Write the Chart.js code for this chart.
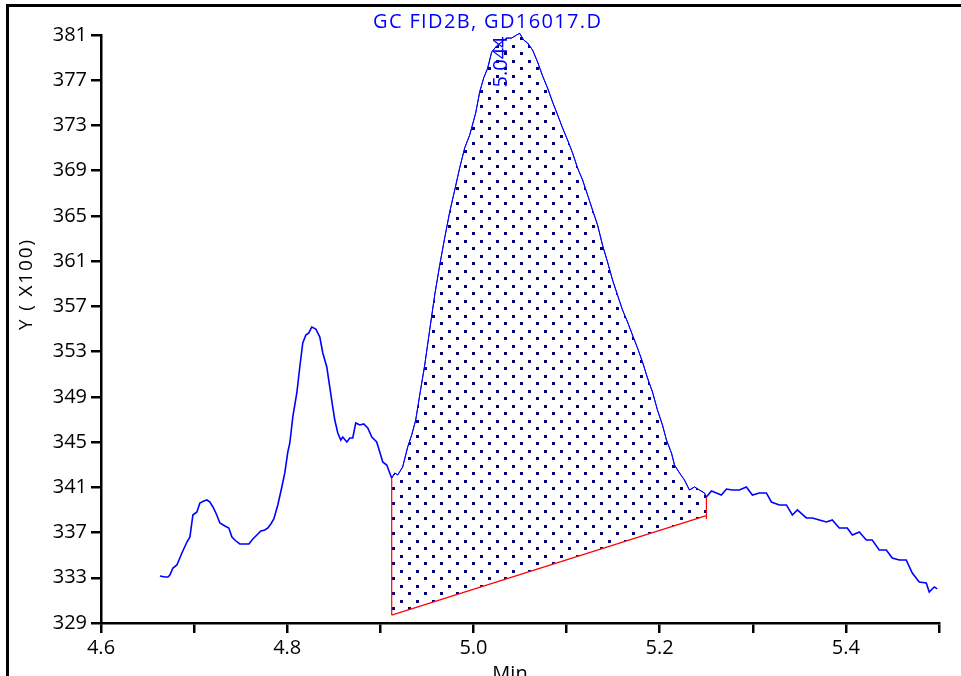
<!DOCTYPE html>
<html><head><meta charset="utf-8">
<script src="https://cdn.jsdelivr.net/npm/chart.js@4/dist/chart.umd.min.js"></script>
<style>html,body{margin:0;padding:0;background:#fff;overflow:hidden}#wrap{width:961px;height:676px;position:relative}</style>
</head><body><div id="wrap"><canvas id="c" width="961" height="676"></canvas></div>
<script>
// ---- data ----
const times = [4.6633,4.6687,4.6719,4.6740,4.6773,4.6815,4.6869,4.6923,4.6955,4.6987,4.7030,4.7062,4.7105,4.7137,4.7170,4.7202,4.7234,4.7277,4.7331,4.7373,4.7406,4.7449,4.7491,4.7545,4.7588,4.7631,4.7674,4.7717,4.7760,4.7792,4.7824,4.7856,4.7899,4.7942,4.7974,4.8006,4.8028,4.8060,4.8103,4.8135,4.8167,4.8200,4.8232,4.8264,4.8307,4.8350,4.8382,4.8425,4.8457,4.8489,4.8511,4.8543,4.8575,4.8597,4.8640,4.8672,4.8704,4.8736,4.8779,4.8822,4.8865,4.8908,4.8961,4.8994,4.9026,4.9069,4.9101,4.9122,4.9155,4.9187,4.9240,4.9294,4.9337,4.9380,4.9423,4.9477,4.9530,4.9584,4.9638,4.9691,4.9745,4.9799,4.9852,4.9906,4.9960,5.0024,5.0067,5.0110,5.0153,5.0196,5.0249,5.0303,5.0356,5.0410,5.0464,5.0496,5.0539,5.0582,5.0635,5.0689,5.0743,5.0796,5.0850,5.0904,5.0957,5.1011,5.1065,5.1118,5.1172,5.1226,5.1279,5.1333,5.1386,5.1440,5.1494,5.1547,5.1601,5.1655,5.1708,5.1762,5.1816,5.1869,5.1923,5.1976,5.2030,5.2073,5.2127,5.2159,5.2213,5.2266,5.2320,5.2374,5.2427,5.2481,5.2502,5.2556,5.2610,5.2663,5.2717,5.2781,5.2856,5.2931,5.2996,5.3071,5.3146,5.3200,5.3285,5.3361,5.3425,5.3479,5.3575,5.3640,5.3715,5.3790,5.3854,5.3929,5.4015,5.4069,5.4144,5.4219,5.4283,5.4358,5.4434,5.4498,5.4573,5.4648,5.4713,5.4788,5.4863,5.4895,5.4949,5.4981];
const signal = [333.16,333.07,333.07,333.25,333.86,334.13,335.19,336.16,336.61,338.55,338.82,339.61,339.79,339.88,339.70,339.26,338.73,337.84,337.58,337.40,336.61,336.25,335.99,335.99,335.99,336.43,336.78,337.14,337.23,337.40,337.76,338.20,339.44,341.03,342.27,344.12,344.92,347.22,349.34,351.64,353.76,354.47,354.65,355.18,355.00,354.29,352.88,351.64,349.87,348.10,346.95,345.80,345.18,345.45,345.01,345.36,345.36,346.69,346.51,346.60,346.25,345.45,345.01,344.12,343.24,342.97,342.27,341.82,342.27,342.09,342.80,344.57,345.63,346.95,349.16,351.82,354.91,358.01,360.66,363.05,365.35,367.29,369.24,371.01,372.16,374.10,375.96,377.20,378.08,379.50,380.03,380.38,380.73,380.73,381.00,381.15,380.56,380.29,379.67,378.61,377.37,376.31,375.07,373.93,372.78,371.71,370.56,369.24,368.18,366.85,365.52,364.20,362.43,360.93,359.33,358.01,356.68,355.62,354.47,353.32,352.08,350.67,349.43,347.84,346.51,345.18,344.03,342.97,342.27,341.65,340.76,341.03,340.76,340.50,340.14,340.67,340.50,340.32,340.85,340.76,340.76,341.03,340.32,340.50,340.50,339.70,339.44,339.44,338.55,339.00,338.29,338.29,338.11,337.93,338.11,337.40,337.40,336.78,337.05,336.34,336.34,335.46,335.46,334.75,334.57,334.57,333.42,332.63,332.54,331.74,332.19,332.01];
const baselineTimes = [4.9122, 5.2502];
const baselineValues = [329.7, 338.5];
const leftDropValues = [329.7, 341.82];
const rightDropValues = [338.2, 340.14];
const peakTime = '5.044';
const chartTitle = 'GC FID2B, GD16017.D';
const xTitle = 'Min';
const yTitle = 'Y ( X100)';
const yMin = 329, yMax = 381, yStep = 4;
const xMin = 4.6, xMax = 5.5, xStep = 0.1;

// ---- build ----
const curve = times.map((t,i)=>({x:t,y:signal[i]}));
const region = curve.filter(p => p.x >= baselineTimes[0] && p.x <= baselineTimes[1]);
const baseline = baselineTimes.map((t,i)=>({x:t,y:baselineValues[i]}));
const leftDrop = leftDropValues.map(v=>({x:baselineTimes[0],y:v}));
const rightDrop = rightDropValues.map(v=>({x:baselineTimes[1],y:v}));

const tile = document.createElement('canvas');
tile.width = 16; tile.height = 15;
const tctx = tile.getContext('2d');
tctx.fillStyle = '#000080';
tctx.fillRect(0,0,3,3);
tctx.fillRect(8,7,3,3);
const pattern = document.getElementById('c').getContext('2d').createPattern(tile,'repeat');

const FONT = "'Open Sans', 'Noto Sans', Arial, sans-serif";
const BLUE = '#0000ff';

function spacedText(ctx, text, x, y, targetWidth){
  ctx.letterSpacing = '0px';
  const w = ctx.measureText(text).width;
  const ls = Math.max(0, (targetWidth - w) / (text.length - 1));
  ctx.letterSpacing = ls.toFixed(2) + 'px';
  ctx.textAlign = 'left';
  ctx.fillText(text, x - targetWidth/2, y);
  ctx.letterSpacing = '0px';
}

const extras = {
  id:'extras',
  afterDraw(chart){
    const ctx = chart.ctx;
    ctx.save();
    ctx.strokeStyle = '#000'; ctx.lineWidth = 3;
    ctx.beginPath(); ctx.moveTo(7.5,676); ctx.lineTo(7.5,5.5); ctx.lineTo(961,5.5); ctx.stroke();
    ctx.fillStyle = BLUE;
    ctx.font = '20px ' + FONT;
    ctx.textBaseline = 'alphabetic';
    spacedText(ctx, chartTitle, 487, 28, 228);
    // peak label
    const xs = chart.scales.x;
    const px = xs.getPixelForValue(parseFloat(peakTime));
    ctx.save();
    ctx.translate(px - 7, 62);
    ctx.rotate(-Math.PI/2);
    ctx.textAlign = 'center';
    ctx.font = '20px ' + FONT;
    ctx.fillText(peakTime, 0, 0);
    ctx.restore();
    // axis titles
    ctx.fillStyle = '#000';
    ctx.font = '19px ' + FONT;
    ctx.save();
    ctx.translate(32, 285);
    ctx.rotate(-Math.PI/2);
    spacedText(ctx, yTitle, 0, 0, 90);
    ctx.restore();
    ctx.textAlign = 'center';
    ctx.font = '20px ' + FONT;
    ctx.fillText(xTitle, 510, 680);
    ctx.restore();
  }
};

new Chart(document.getElementById('c'), {
  type:'line',
  data:{datasets:[
    {data:region, parsing:false, fill:1, backgroundColor:pattern, borderColor:BLUE, borderWidth:1, pointRadius:0, tension:0, clip:6, order:5},
    {data:baseline, parsing:false, fill:false, borderColor:'#ff0000', borderWidth:1.2, pointRadius:0, order:4},
    {data:leftDrop, parsing:false, fill:false, borderColor:'#ff0000', borderWidth:1.2, pointRadius:0, order:3},
    {data:rightDrop, parsing:false, fill:false, borderColor:'#ff0000', borderWidth:1.2, pointRadius:0, order:2},
    {data:curve, parsing:false, fill:false, borderColor:BLUE, borderWidth:1.6, pointRadius:0, tension:0, clip:6, order:1,
     segment:{borderWidth: c => (c.p0.parsed.x >= baselineTimes[0] && c.p1.parsed.x <= baselineTimes[1]) ? 1 : 1.6}}
  ]},
  options:{
    responsive:false, animation:false, devicePixelRatio:1,
    layout:{padding:{left:0,top:35,right:22,bottom:0}},
    plugins:{legend:{display:false}, tooltip:{enabled:false}, title:{display:false}},
    scales:{
      x:{type:'linear', min:xMin, max:xMax,
        afterFit(s){ s.height = 53; },
        grid:{display:true, drawOnChartArea:false, drawTicks:true, tickLength:10, color:'#000', lineWidth:2.5},
        border:{display:true, color:'#000', width:2.5},
        ticks:{stepSize:xStep, autoSkip:false, maxRotation:0, color:'#000', padding:3, font:{family:FONT, size:20},
          callback:(v,i)=> (i % 2 === 0) ? Number(v).toFixed(1) : ''}
      },
      y:{type:'linear', min:yMin, max:yMax,
        afterFit(s){ s.width = 101; },
        grid:{display:true, drawOnChartArea:false, drawTicks:true, tickLength:10, color:'#000', lineWidth:2.5},
        border:{display:true, color:'#000', width:2.5},
        ticks:{stepSize:yStep, autoSkip:false, color:'#000', padding:4, font:{family:FONT, size:20},
          callback:v=>String(Math.round(v))}
      }
    }
  },
  plugins:[extras]
});
</script></body></html>
